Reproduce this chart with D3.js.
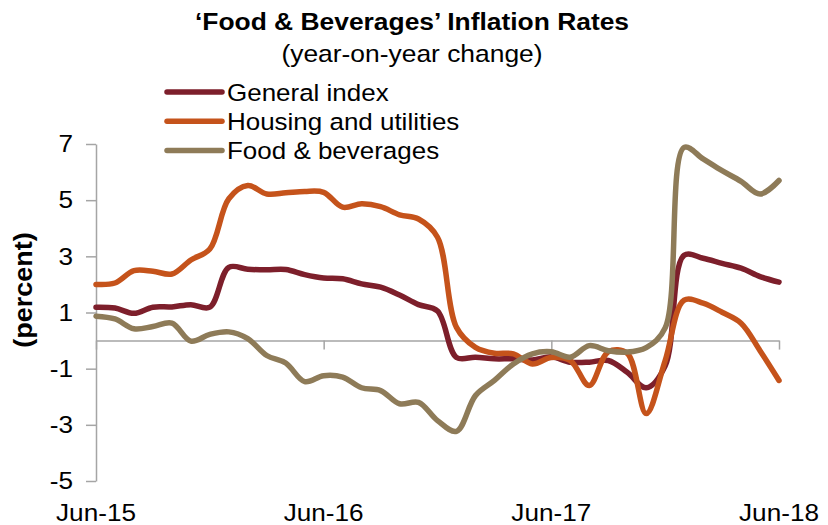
<!DOCTYPE html>
<html>
<head>
<meta charset="utf-8">
<script src="https://cdn.jsdelivr.net/npm/d3@7"></script>
<style>
  html, body { margin: 0; padding: 0; background: #fff; }
  svg { display: block; font-family: "Liberation Sans", Arial, Helvetica, sans-serif; }
</style>
</head>
<body>
<svg id="chart" width="828" height="525"></svg>
<script>
// Monthly observations, Jun-15 .. Jun-18
const months = [
  "Jun-15","Jul-15","Aug-15","Sep-15","Oct-15","Nov-15","Dec-15",
  "Jan-16","Feb-16","Mar-16","Apr-16","May-16","Jun-16","Jul-16",
  "Aug-16","Sep-16","Oct-16","Nov-16","Dec-16","Jan-17","Feb-17",
  "Mar-17","Apr-17","May-17","Jun-17","Jul-17","Aug-17","Sep-17",
  "Oct-17","Nov-17","Dec-17","Jan-18","Feb-18","Mar-18","Apr-18",
  "May-18","Jun-18"
];

const generalIndex = [
  1.19, 1.16, 0.97, 1.19, 1.20, 1.28, 1.19, 2.61, 2.54, 2.52,
  2.53, 2.35, 2.23, 2.20, 2.02, 1.90, 1.62, 1.28, 1.05, -0.60,
  -0.59, -0.65, -0.65, -0.69, -0.58, -0.77, -0.77, -0.71, -1.13, -1.68,
  -0.90, 3.04, 2.93, 2.75, 2.58, 2.28, 2.08
];

const housingUtilities = [
  2.00, 2.05, 2.49, 2.47, 2.37, 2.87, 3.26, 5.05, 5.52, 5.22,
  5.26, 5.31, 5.28, 4.75, 4.87, 4.77, 4.48, 4.33, 3.68, 0.47,
  -0.24, -0.45, -0.47, -0.83, -0.60, -0.71, -1.60, -0.40, -0.45, -2.60,
  -0.71, 1.44, 1.33, 1.01, 0.62, -0.36, -1.42
];

const foodBeverages = [
  0.87, 0.77, 0.42, 0.50, 0.62, -0.02, 0.22, 0.31, 0.07, -0.53,
  -0.80, -1.46, -1.25, -1.30, -1.68, -1.78, -2.25, -2.20, -2.85, -3.23,
  -1.96, -1.42, -0.83, -0.47, -0.40, -0.59, -0.18, -0.36, -0.41, -0.25,
  0.45, 6.88, 6.47, 6.05, 5.67, 5.22, 5.70
];

const seriesNames = ["General index", "Housing and utilities", "Food & beverages"];
const seriesColors = ["#7D1F2B", "#C5531B", "#8E7B58"];
const yTicks = [-5, -3, -1, 1, 3, 5, 7];
const xTickLabels = ["Jun-15", "Jun-16", "Jun-17", "Jun-18"];

const series = [generalIndex, housingUtilities, foodBeverages];

const svg = d3.select("#chart");
const axisColor = "#A5A5A5";
const textStretch = 1.09;   // slightly wide lettering

const x = d3.scalePoint().domain(months).range([96, 779]);
const y = d3.scaleLinear().domain([-5, 7]).range([481, 144]);

// Widen a text element horizontally around its anchor point
function widen(sel, sx, extra = "") {
  sel.each(function () {
    const t = d3.select(this);
    const tx = +t.attr("x") || 0, ty = +t.attr("y") || 0;
    t.attr("x", 0).attr("y", 0)
      .attr("transform", `translate(${tx},${ty}) ${extra} scale(${sx},1)`);
  });
}

// Title block
svg.append("text")
  .attr("x", 412).attr("y", 30)
  .attr("text-anchor", "middle")
  .attr("font-size", 24).attr("font-weight", "bold")
  .text("\u2018Food & Beverages\u2019 Inflation Rates")
  .call(widen, 1.1);

svg.append("text")
  .attr("x", 412).attr("y", 62)
  .attr("text-anchor", "middle")
  .attr("font-size", 24)
  .text("(year-on-year change)")
  .call(widen, 1.1);

// Y axis (ticks pointing outward to the left)
const yAxis = svg.append("g")
  .attr("transform", "translate(96,0)")
  .call(d3.axisLeft(y).tickValues(yTicks).tickSize(10).tickPadding(13)
    .tickSizeOuter(0).tickFormat(d => String(d)));
yAxis.select(".domain").attr("stroke", axisColor).attr("stroke-width", 1.5);
yAxis.selectAll(".tick line").attr("stroke", axisColor).attr("stroke-width", 1.5);
yAxis.selectAll(".tick text")
  .attr("font-size", 24).attr("fill", "#000")
  .attr("font-family", "Liberation Sans, Arial, sans-serif")
  .call(widen, textStretch);

// X axis along zero, labels placed below the plot
const xAxis = svg.append("g")
  .attr("transform", `translate(0,${y(0)})`)
  .call(d3.axisBottom(x).tickValues(xTickLabels).tickSize(9).tickFormat("").tickSizeOuter(0));
xAxis.select(".domain").attr("stroke", axisColor).attr("stroke-width", 1.5);
xAxis.selectAll(".tick line").attr("stroke", axisColor).attr("stroke-width", 1.5);

svg.append("g").selectAll("text")
  .data(xTickLabels)
  .join("text")
  .attr("x", d => x(d))
  .attr("y", 521)
  .attr("text-anchor", "middle")
  .attr("font-size", 24)
  .text(d => d)
  .call(widen, textStretch);

// Y axis title
svg.append("text")
  .attr("x", 31.5).attr("y", 290)
  .attr("text-anchor", "middle")
  .attr("font-size", 25).attr("font-weight", "bold")
  .text("(percent)")
  .call(widen, 1.08, "rotate(-90)");

// Smoothed series lines
const line = d3.line()
  .x((d, i) => x(months[i]))
  .y(d => y(d))
  .curve(d3.curveCatmullRom.alpha(0.5));

svg.append("g").selectAll("path")
  .data(series)
  .join("path")
  .attr("d", d => line(d))
  .attr("fill", "none")
  .attr("stroke", (d, i) => seriesColors[i])
  .attr("stroke-width", 5.5)
  .attr("stroke-linejoin", "round")
  .attr("stroke-linecap", "round");

// Legend
const legendRows = svg.append("g").selectAll("g")
  .data(seriesNames)
  .join("g")
  .attr("transform", (d, i) => `translate(0,${92 + i * 29.3})`);
legendRows.append("line")
  .attr("x1", 167).attr("x2", 222)
  .attr("y1", 0).attr("y2", 0)
  .attr("stroke", (d, i) => seriesColors[i])
  .attr("stroke-width", 5.5)
  .attr("stroke-linecap", "round");
legendRows.append("text")
  .attr("x", 227).attr("y", 8.5)
  .attr("font-size", 24.5)
  .text(d => d)
  .call(widen, 1.06);
</script>
</body>
</html>
